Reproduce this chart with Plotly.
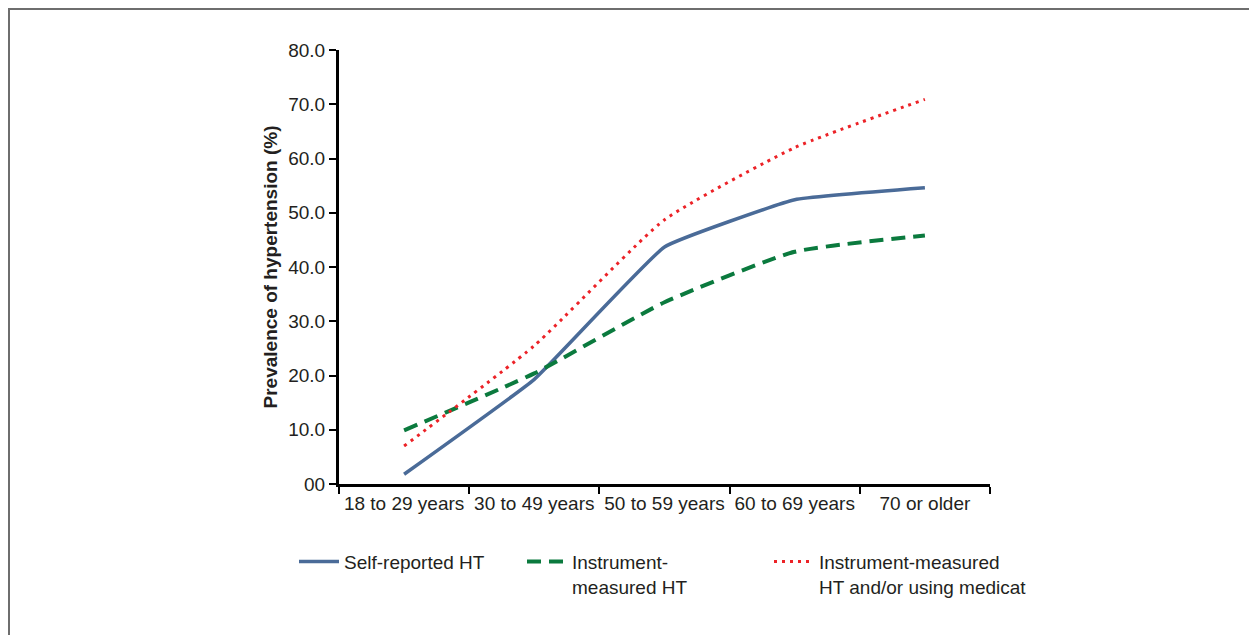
import plotly.graph_objects as go

age_groups = ["18 to 29 years", "30 to 49 years", "50 to 59 years", "60 to 69 years", "70 or older"]
self_reported = [1.8, 19.3, 43.7, 52.4, 54.6]
instrument = [9.9, 20.4, 33.5, 42.8, 45.8]
instrument_or_meds = [7.0, 25.5, 48.7, 62.0, 70.9]

y_ticks = [0, 10, 20, 30, 40, 50, 60, 70, 80]
y_ticktext = ["00", "10.0", "20.0", "30.0", "40.0", "50.0", "60.0", "70.0", "80.0"]

FONT = "Liberation Sans, Arial, sans-serif"
INK = "#231f20"

# page body has an 8px margin, so the figure is sized/offset to put the plot at the reference spot
W, H = 1241, 627
L, T, PW, PH = 331, 42, 651, 434

fig = go.Figure()
fig.add_trace(go.Scatter(x=age_groups, y=self_reported, mode="lines", name="Self-reported HT",
                         line=dict(color="#4a6b98", width=3.5, shape="spline", smoothing=0.3),
                         legend="legend"))
fig.add_trace(go.Scatter(x=age_groups, y=instrument, mode="lines", name="Instrument-<br>measured HT",
                         line=dict(color="#0b7a3e", width=4, dash="14px,8px", shape="spline", smoothing=0.5),
                         legend="legend2"))
fig.add_trace(go.Scatter(x=age_groups, y=instrument_or_meds, mode="lines",
                         name="Instrument-measured<br>HT and/or using medicat",
                         line=dict(color="#ec2227", width=3, dash="3px,5px", shape="spline", smoothing=0.5),
                         legend="legend3"))

leg = dict(orientation="h", yanchor="top", xanchor="left", y=-0.135, itemwidth=40, visible=True,
           font=dict(family=FONT, size=19, color=INK), bgcolor="rgba(0,0,0,0)", valign="top")


def px_x(p):
    return (p - L) / PW


def px_y(p):
    return (T + PH - p) / PH


fig.update_layout(
    width=W, height=H,
    margin=dict(l=L, r=W - L - PW, t=T, b=H - T - PH),
    paper_bgcolor="white", plot_bgcolor="white",
    font=dict(family=FONT, size=19, color=INK),
    showlegend=True,
    legend=dict(leg, x=px_x(294 - 8)),
    legend2=dict(leg, x=px_x(522 - 8)),
    legend3=dict(leg, x=px_x(769 - 8)),
    xaxis=dict(type="category", range=[-0.5, 4.5], showline=True, linecolor="black", linewidth=3,
               ticks="outside", tickson="boundaries", ticklen=7, tickwidth=2, tickcolor="black",
               tickangle=0, showgrid=False, zeroline=False,
               tickfont=dict(family=FONT, size=19, color=INK)),
    yaxis=dict(range=[0, 80], showline=True, linecolor="black", linewidth=3,
               tickvals=y_ticks, ticktext=y_ticktext, ticks="outside", ticklen=7, tickwidth=2,
               tickcolor="black", showgrid=False, zeroline=False,
               tickfont=dict(family=FONT, size=19, color=INK),
               title=dict(text="<b>Prevalence of hypertension (%)</b>", standoff=6,
                          font=dict(family=FONT, size=19, color=INK))),
    shapes=[
        dict(type="line", xref="paper", yref="paper", x0=px_x(0), x1=px_x(W), y0=px_y(1), y1=px_y(1),
             line=dict(color="#6e6e6e", width=2)),
        dict(type="line", xref="paper", yref="paper", x0=px_x(1), x1=px_x(1), y0=px_y(0), y1=px_y(H),
             line=dict(color="#6e6e6e", width=2)),
    ],
)

fig.write_html("out.html")
